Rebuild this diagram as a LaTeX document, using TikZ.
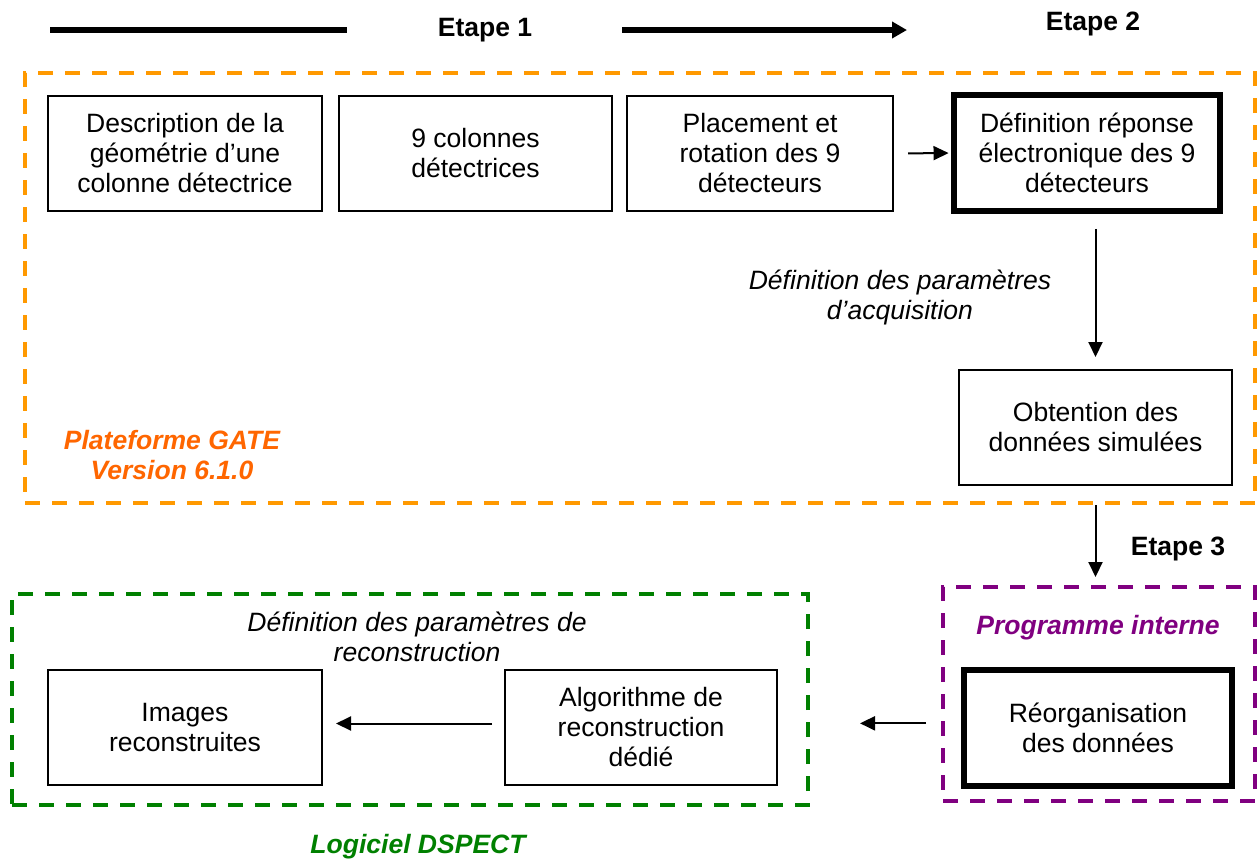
\documentclass[tikz,border=0pt]{standalone}
\usepackage{fontspec}
\setmainfont{Liberation Sans}
\usetikzlibrary{arrows.meta}
\definecolor{gateorange}{HTML}{FF9900}
\definecolor{gatetext}{HTML}{FF6600}
\definecolor{progpurple}{HTML}{800080}
\definecolor{dspectgreen}{HTML}{008000}
\begin{document}
\begin{tikzpicture}[x=0.75pt,y=-0.75pt,
  every node/.style={font=\fontsize{19.9pt}{22.5pt}\selectfont, align=center, inner sep=0pt},
  stepbox/.style 2 args={draw, line width=1.5pt, minimum width=#1*0.75pt, minimum height=#2*0.75pt},
  thickbox/.style 2 args={draw, line width=4.2pt, minimum width=#1*0.75pt, minimum height=#2*0.75pt},
  frame/.style 2 args={draw, line width=3pt, dash pattern=on 11.25pt off 9pt, minimum width=#1*0.75pt, minimum height=#2*0.75pt},
  conn/.style={line width=1.5pt, -{Triangle[length=11.25pt, width=10.5pt]}},
  steplbl/.style={font=\fontsize{19.9pt}{22.5pt}\selectfont\bfseries},
  note/.style={font=\fontsize{19.9pt}{22.5pt}\selectfont\itshape},
  grouplbl/.style={font=\fontsize{19.9pt}{22.5pt}\selectfont\bfseries\itshape}
]
\useasboundingbox (0,0) rectangle (1257,861);

% top step line
\coordinate (t0) at (50,30);
\coordinate (t1) at (347,30);
\coordinate (t2) at (622,30);
\coordinate (t3) at (907,30);
\draw[line width=3.8pt] (t0) -- (t1);
\draw[line width=3.8pt, -{Triangle[length=11.25pt, width=12pt]}] (t2) -- (t3);
\node[steplbl] (e1) at (485,30) {Etape 1};
\node[steplbl] (e2) at (1093,24) {Etape 2};

% GATE frame
\node[frame={1230}{430}, gateorange] (gate) at (640,288) {};
\node[grouplbl, text=gatetext] (gatelbl) at (172,455) {Plateforme GATE\\Version 6.1.0};

\node[stepbox={274}{115}] (b1) at (185,153.5) {Description de la\\géométrie d’une\\colonne détectrice};
\node[stepbox={273}{115}] (b2) at (475.5,153.5) {9 colonnes\\détectrices};
\node[stepbox={266}{115}] (b3) at (760,153.5) {Placement et\\rotation des 9\\détecteurs};
\node[thickbox={266}{116}] (b4) at (1087,153) {Définition réponse\\électronique des 9\\détecteurs};
\node[note] (acq) at (900,297) {Définition des paramètres\\d’acquisition};
\node[stepbox={273}{115}] (b5) at (1095.5,427.5) {Obtention des\\données simulées};

\draw[conn, shorten <=14*0.75pt, shorten >=2pt] (b3.east) -- (b4.west);
\draw[conn, shorten <=15*0.75pt, shorten >=12*0.75pt] (b4.south -| b5.north) -- (b5.north);

% programme interne
\node[frame={312}{214}, progpurple] (prog) at (1099,694) {};
\node[grouplbl, text=progpurple] (proglbl) at (1098,628) {Programme interne};
\node[thickbox={268}{116}] (b6) at (1098,728) {Réorganisation\\des données};
\node[steplbl] (e3) at (1178,549) {Etape 3};

\draw[conn, shorten >=8*0.75pt] (gate.south -| b5.south) -- (prog.north -| b5.south);

% DSPECT
\node[frame={796}{211}, dspectgreen] (dspect) at (410,699.5) {};
\node[grouplbl, text=dspectgreen] (dspectlbl) at (418,847) {Logiciel DSPECT};
\node[note] (rec) at (417,637) {Définition des paramètres de\\reconstruction};
\node[stepbox={274}{115}] (b7) at (185,727.5) {Images\\reconstruites};
\node[stepbox={272}{115}] (b8) at (641,727.5) {Algorithme de\\reconstruction\\dédié};

\draw[conn, shorten <=15*0.75pt, shorten >=50*0.75pt] ([yshift=3.5pt]prog.west |- b6.west) -- ([yshift=3.5pt]dspect.east |- b6.west);
\draw[conn, shorten <=12*0.75pt, shorten >=13*0.75pt] ([yshift=3pt]b8.west) -- ([yshift=3pt]b7.east);
\end{tikzpicture}
\end{document}
